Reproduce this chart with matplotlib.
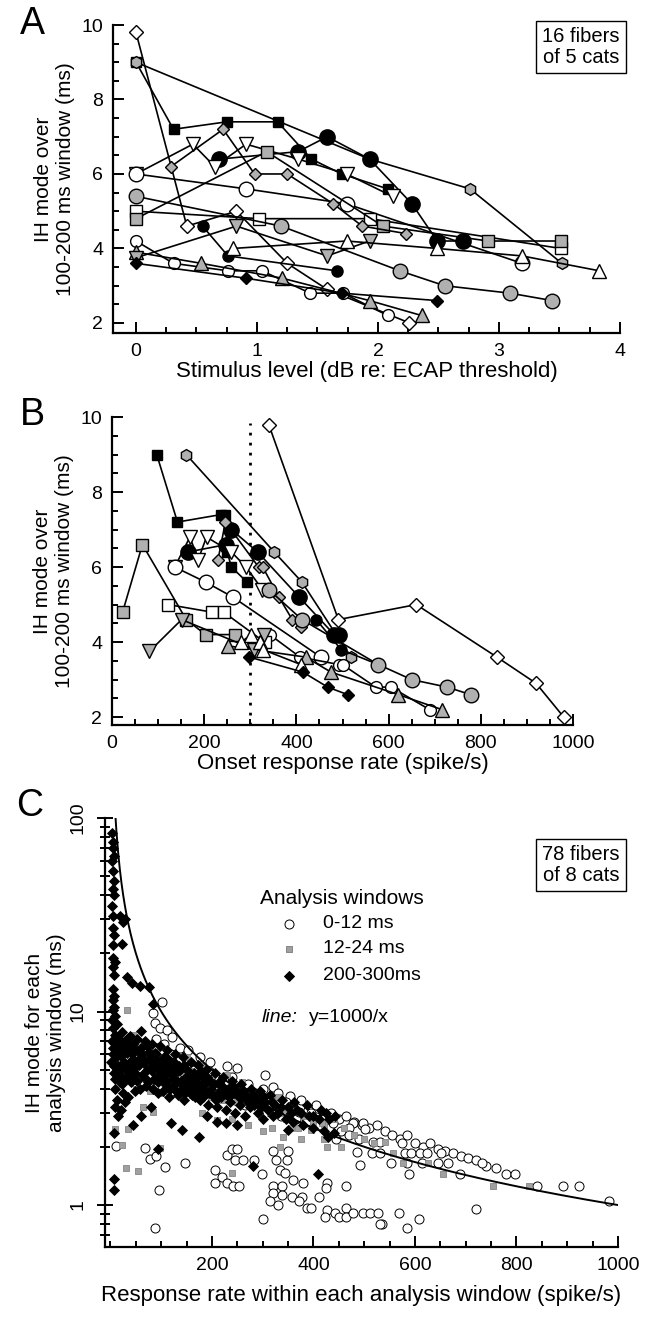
import numpy as np
import matplotlib.pyplot as plt
from matplotlib.ticker import MultipleLocator, LogLocator, NullFormatter

plt.rcParams['font.family'] = ['Liberation Sans', 'DejaVu Sans']

# ---- panels A and B: 16 fibers, one list per fiber ----
level_db = [
    [0, 0.42, 0.83, 1.25, 1.58, 2.26],
    [0, 0.31, 0.75, 1.17, 1.45, 1.7, 2.08],
    [0, 1.93, 2.76, 3.52],
    [0.69, 1.34, 1.58, 1.93, 2.28, 2.49, 2.7],
    [0.55, 0.76, 1.66],
    [0, 0.47, 0.65, 0.91, 1.34, 1.74, 2.12],
    [0, 0.91, 1.74, 3.19],
    [0, 0.31, 0.76, 1.04, 1.44, 1.71, 2.08],
    [0, 1.02, 1.93, 3.51],
    [0, 1.08, 2.04, 2.91, 3.51],
    [0.29, 0.72, 0.98, 1.25, 1.63, 1.87, 2.23],
    [0, 0.54, 1.21, 1.93, 2.36],
    [0, 0.83, 1.58, 1.93],
    [0.8, 1.74, 2.49, 3.19, 3.83],
    [0, 0.91, 1.7, 2.49],
    [0, 1.2, 2.18, 2.55, 3.09, 3.44],
]
ih_mode = [
    [9.8, 4.6, 5.0, 3.6, 2.9, 2.0],
    [9.0, 7.2, 7.4, 7.4, 6.4, 6.0, 5.6],
    [9.0, 6.4, 5.6, 3.6],
    [6.4, 6.6, 7.0, 6.4, 5.2, 4.2, 4.2],
    [4.6, 3.8, 3.4],
    [6.0, 6.8, 6.2, 6.8, 6.4, 6.0, 5.4],
    [6.0, 5.6, 5.2, 3.6],
    [4.2, 3.6, 3.4, 3.4, 2.8, 2.8, 2.2],
    [5.0, 4.8, 4.8, 4.0],
    [4.8, 6.6, 4.6, 4.2, 4.2],
    [6.2, 7.2, 6.0, 6.0, 5.2, 4.6, 4.4],
    [3.9, 3.6, 3.2, 2.6, 2.2],
    [3.75, 4.6, 3.8, 4.2],
    [4.0, 4.2, 4.0, 3.8, 3.4],
    [3.6, 3.2, 2.8, 2.6],
    [5.4, 4.6, 3.4, 3.0, 2.8, 2.6],
]
onset_rate = [
    [340, 491, 660, 835, 920, 980],
    [97, 142, 237, 245, 250, 259, 293],
    [161, 352, 412, 518],
    [164, 248, 259, 316, 406, 482, 493],
    [443, 497, 578],
    [136, 169, 187, 205, 259, 291, 326],
    [136, 203, 262, 453],
    [342, 408, 493, 500, 572, 605, 689],
    [122, 216, 242, 331],
    [23, 66, 161, 203, 266],
    [230, 246, 318, 327, 362, 391, 410],
    [251, 420, 475, 621, 716],
    [81, 151, 309, 330],
    [280, 302, 320, 327, 410],
    [298, 414, 468, 511],
    [340, 412, 578, 650, 727, 778],
]

# ---- panel C: (rate, IH mode) per analysis window ----
win_0_12 = [
    (101, 11.2), (84, 9.8), (88, 8.7), (97.5, 8.2), (111, 8.0), (120.6, 7.4), (137, 6.5), (153, 6.3),
    (176, 5.84), (196, 5.5), (229, 5.2), (249, 5.1), (304, 4.69), (321, 4.09), (354, 3.66),
    (90, 7.2), (105, 6.8), (120, 6.0), (135, 5.6), (150, 5.4), (165, 5.0), (180, 4.7), (195, 4.9),
    (210, 4.5), (225, 4.3), (240, 4.6), (255, 4.0), (270, 4.2), (285, 3.8), (300, 4.0), (315, 3.6),
    (330, 3.8), (345, 3.4), (360, 3.2), (375, 3.5), (390, 3.1), (405, 3.3), (420, 2.9), (435, 3.0),
    (450, 2.8), (465, 2.9), (480, 2.7), (495, 2.6), (510, 2.5), (525, 2.6), (540, 2.4), (555, 2.3),
    (570, 2.2), (585, 2.3), (600, 2.1), (615, 2.0), (630, 2.1), (645, 1.95), (660, 1.9), (675, 1.85),
    (690, 1.8), (705, 1.75), (720, 1.7), (740, 1.6), (760, 1.55), (498, 2.64), (502, 2.46), (518, 2.12),
    (531, 2.12), (515, 1.86), (532, 1.86), (574, 2.08), (580, 1.86), (593, 1.86), (552, 1.65),
    (584, 1.65), (613, 1.65), (610, 1.86), (623, 1.86), (646, 1.65), (666, 1.65), (652, 1.86),
    (589, 1.45), (688, 1.45), (732, 1.65), (780, 1.45), (797, 1.45), (840, 1.25), (892, 1.25),
    (923, 1.25), (982, 1.05), (721, 0.95), (569, 0.91), (584, 0.76), (608, 0.85), (498, 0.91),
    (511, 0.91), (528, 0.91), (535, 0.8),
    (11, 2.02), (68, 1.96), (78, 1.72), (89, 1.79), (107, 1.57), (147, 1.65), (96, 1.2), (87, 0.76),
    (206, 1.52), (206, 1.30), (219, 1.4), (229, 1.3), (242, 1.25), (254, 1.25), (229, 1.81),
    (239, 1.94), (250, 1.94), (246, 1.71), (262, 1.71), (283, 1.71), (298, 1.45), (300, 0.85),
    (321, 1.91), (327, 1.71), (334, 1.52), (344, 1.46), (347, 1.71), (350, 1.91), (321, 1.25),
    (337, 1.25), (321, 1.15), (337, 1.13), (314, 1.05), (331, 1.0), (357, 1.1), (377, 1.1),
    (360, 1.35), (380, 1.3), (372, 1.05), (387, 0.96), (396, 0.96), (411, 1.1), (426, 1.3),
    (425, 1.23), (465, 1.25), (426, 0.94), (422, 0.87), (442, 0.91), (451, 0.87), (465, 0.96),
    (465, 0.87), (478, 0.91), (491, 1.61), (478, 2.66), (485, 1.88), (531, 0.8),
    (160, 4.2), (180, 3.8), (200, 3.4), (220, 3.9), (245, 3.5), (265, 3.3), (280, 3.6), (310, 3.2),
    (335, 2.9), (365, 2.8), (385, 2.7), (410, 2.6), (430, 2.5), (455, 2.4), (470, 2.5), (445, 2.2),
    (372, 3.03), (395, 3.0), (405, 2.85), (420, 2.8), (439, 2.64), (470, 2.3), (490, 2.2),
]
win_12_24 = [
    (33, 10.2), (60, 6.8), (90, 6.2), (40, 5.5), (70, 5.0), (110, 5.5), (150, 5.8), (180, 5.2),
    (200, 4.5), (230, 4.7), (260, 4.3), (140, 4.8), (120, 4.3), (100, 3.8), (80, 4.4), (50, 4.0),
    (30, 3.6), (15, 4.2), (12, 6.0), (25, 7.2), (45, 7.6), (160, 3.7), (190, 3.9), (220, 3.5),
    (250, 3.4), (280, 3.8), (300, 3.5), (320, 3.2), (340, 3.0), (360, 3.3), (380, 2.9), (400, 2.7),
    (420, 2.6), (440, 2.8), (460, 2.5), (480, 2.3), (500, 2.2), (520, 2.1), (541, 2.12), (557, 1.86),
    (577, 1.65), (626, 1.65), (656, 1.45), (754, 1.25), (825, 1.25), (330, 3.6), (355, 2.5),
    (375, 2.2), (420, 2.2), (455, 2.0), (22, 2.04), (30.5, 1.55), (55, 1.5), (9, 2.46), (97.5, 1.96),
    (239, 1.46), (334, 2.0), (318, 2.49), (209, 2.75), (84, 3.03), (65, 3.2), (35, 2.46), (370, 2.49),
    (396, 2.44), (427, 2.0), (416, 2.64), (339, 2.25), (180, 3.0), (240, 2.8), (270, 2.6), (300, 2.4),
    (8, 5.0), (18, 5.7), (28, 4.8), (38, 6.2), (48, 5.0), (58, 4.6), (68, 5.8), (78, 3.9), (88, 4.8),
    (98, 5.2), (108, 3.9), (118, 4.7), (128, 5.1), (138, 4.1), (148, 4.4), (158, 4.9), (168, 3.8),
    (178, 4.2), (198, 3.6), (215, 4.0), (235, 3.8), (255, 3.7), (275, 3.3), (295, 3.1), (315, 3.0),
    (345, 2.8),
]
win_200_300 = [
    (3, 84), (5, 75), (4, 70), (6, 64), (3, 60), (5, 53), (6, 47.5), (4, 43), (6, 40), (3, 35),
    (5, 31), (19, 31), (25, 29), (28, 30), (4, 27), (6, 25), (22, 22.4), (5, 22), (4, 19), (8, 18),
    (5, 17), (32, 15), (6, 15.5), (42, 14), (58, 13.5), (76, 13.4), (5, 13), (7, 12), (5, 11.5),
    (84, 11), (6, 10.6), (4, 10.2), (9, 9.5), (3, 9.0), (12, 8.6), (61, 7.9),
    (4, 8.2), (8, 7.6), (15, 7.3), (22, 7.8), (30, 7.0), (38, 7.5), (45, 6.8), (52, 7.2), (60, 6.5),
    (68, 7.0), (75, 6.2), (82, 6.8), (90, 6.0), (98, 6.6), (105, 5.8), (112, 6.3), (120, 5.5),
    (128, 6.0), (135, 5.2), (142, 5.8), (150, 5.0), (158, 5.5), (165, 4.8), (172, 5.3), (180, 4.6),
    (188, 5.0), (196, 4.4), (205, 4.8), (214, 4.2), (222, 4.6), (232, 4.0), (240, 4.4), (250, 3.9),
    (258, 4.2), (268, 3.7), (276, 4.0), (285, 3.6), (295, 3.9), (305, 3.4), (315, 3.7), (325, 3.3),
    (338, 3.5), (350, 3.2), (362, 3.4), (375, 3.0), (388, 3.3), (400, 2.9), (415, 3.1), (430, 2.8),
    (442, 2.9),
    (5, 6.5), (10, 5.8), (14, 5.2), (6, 4.8), (18, 4.4), (9, 4.0), (24, 3.8), (12, 3.5), (28, 3.4),
    (35, 3.6), (20, 6.2), (26, 5.5), (33, 4.9), (40, 4.3), (48, 3.9), (55, 5.6), (62, 4.7), (70, 4.1),
    (78, 5.1), (85, 4.5), (93, 3.8), (100, 4.9), (108, 4.2), (115, 3.6), (122, 4.7), (130, 3.9),
    (138, 4.4), (145, 3.5), (152, 4.1), (160, 3.7), (168, 4.3), (176, 3.5), (185, 3.9), (192, 3.3),
    (200, 3.7), (210, 3.2), (218, 3.6), (228, 3.1), (236, 3.4), (246, 3.0), (255, 3.3), (265, 2.9),
    (275, 3.2), (290, 3.0), (300, 2.8), (320, 2.9), (345, 2.8), (360, 2.7),
    (3, 7.0), (7, 6.9), (11, 6.4), (16, 6.8), (21, 5.9), (27, 6.6), (32, 6.1), (37, 5.4), (43, 6.0),
    (50, 5.2), (57, 6.2), (64, 5.7), (71, 5.0), (79, 5.9), (88, 5.3), (95, 4.7), (103, 5.4),
    (110, 4.8), (118, 5.1), (126, 4.5), (133, 4.9), (140, 4.2), (148, 4.6), (156, 4.3), (163, 4.0),
    (171, 4.6), (179, 4.1), (187, 4.5), (194, 3.8), (203, 4.2), (212, 3.8), (220, 4.1), (230, 3.7),
    (244, 3.8), (260, 3.6), (272, 3.5), (283, 3.3), (297, 3.2), (310, 3.1), (330, 3.0),
    (2, 5.5), (4, 6.0), (6, 5.2), (8, 4.5), (10, 7.2), (13, 6.6), (17, 5.0), (19, 4.7), (23, 4.2),
    (25, 6.9), (29, 5.2), (31, 4.5), (34, 7.3), (36, 6.4), (39, 5.0), (41, 4.6), (44, 5.7), (47, 6.5),
    (49, 4.8), (53, 4.4), (56, 5.3), (59, 4.0), (63, 6.0), (66, 5.4), (69, 4.5), (72, 6.6), (74, 4.3),
    (77, 5.6), (81, 4.9), (84, 4.0), (87, 6.1), (91, 5.6), (94, 4.3), (97, 5.1), (101, 4.5),
    (104, 3.9), (107, 5.2), (111, 4.4), (114, 5.7), (117, 4.0), (121, 5.0), (124, 4.1), (127, 5.4),
    (131, 4.4), (134, 3.7), (137, 5.0), (141, 4.0), (144, 5.3), (147, 3.8), (151, 4.5), (154, 3.9),
    (157, 4.8), (162, 4.4), (166, 3.6), (170, 4.2), (174, 3.9), (178, 4.9), (183, 3.6), (186, 4.2),
    (191, 4.6), (199, 4.0), (207, 3.5), (216, 4.4), (225, 3.9), (234, 3.6), (242, 4.1), (253, 3.6),
    (262, 3.9), (270, 3.4), (280, 3.7), (292, 3.4), (302, 3.6), (318, 3.4), (335, 3.2), (355, 3.0),
    (368, 3.1), (392, 2.9), (410, 2.8), (425, 3.0),
    (7, 2.36), (7, 1.36), (7, 1.2), (45, 2.58), (94, 1.94), (140, 2.44), (175, 2.25), (281, 1.59),
    (409, 1.45), (120, 2.66), (228, 2.66), (350, 2.44), (429, 2.25), (8, 3.2), (15, 2.9), (20, 3.1),
    (60, 2.9), (80, 3.2), (190, 2.9), (210, 2.7), (250, 2.6), (380, 2.6), (400, 2.5), (420, 2.4),
    (440, 2.35),
]

GREY = '#b0b0b0'
# marker, face colour, size for each fiber (same order as the lists above)
fiber_style = [
    ('D', 'white', 7), ('s', 'black', 6.5), ('h', GREY, 8.5), ('o', 'black', 11),
    ('o', 'black', 8), ('v', 'white', 9.5), ('o', 'white', 10.5), ('o', 'white', 8.5),
    ('s', 'white', 8.5), ('s', GREY, 8.5), ('D', GREY, 6.5), ('^', GREY, 9.5),
    ('v', GREY, 9.5), ('^', 'white', 9.5), ('D', 'black', 6.5), ('o', GREY, 10.5),
]

W, H = 648, 1317
fig = plt.figure(figsize=(W / 100, H / 100), dpi=100)


def px_axes(left, top, right, bottom):
    return fig.add_axes([left / W, 1 - bottom / H, (right - left) / W, (bottom - top) / H])


def style_axes(ax):
    for s in ['top', 'right']:
        ax.spines[s].set_visible(False)
    for s in ['left', 'bottom']:
        ax.spines[s].set_linewidth(1.6)
    ax.tick_params(which='both', direction='in', width=1.4, labelsize=14, top=False, right=False)
    ax.tick_params(which='major', length=8, pad=7)
    ax.tick_params(which='minor', length=4.5)


def draw_fibers(ax, xs_list):
    for xs, ys, (mk, fc, ms) in zip(xs_list, ih_mode, fiber_style):
        ax.plot(xs, ys, color='black', lw=1.2, marker=mk, mfc=fc, mec='black',
                mew=1.0, ms=ms, clip_on=False)


# panel A
axA = px_axes(113, 25, 620, 333)
draw_fibers(axA, level_db)
axA.set_xlim(-0.19, 4.0)
axA.set_ylim(1.73, 10)
axA.xaxis.set_major_locator(MultipleLocator(1))
axA.xaxis.set_minor_locator(MultipleLocator(0.25))
axA.yaxis.set_major_locator(MultipleLocator(2))
axA.yaxis.set_minor_locator(MultipleLocator(0.5))
style_axes(axA)
axA.set_xlabel('Stimulus level (dB re: ECAP threshold)', fontsize=16, labelpad=1)

# panel B
axB = px_axes(112, 417, 573, 725)
axB.axvline(300, ymax=0.98, color='black', lw=2, ls=(0, (1, 2.6)))
draw_fibers(axB, onset_rate)
axB.set_xlim(0, 1000)
axB.set_ylim(1.79, 10)
axB.xaxis.set_major_locator(MultipleLocator(200))
axB.xaxis.set_minor_locator(MultipleLocator(50))
axB.yaxis.set_major_locator(MultipleLocator(2))
axB.yaxis.set_minor_locator(MultipleLocator(0.5))
style_axes(axB)
axB.set_xlabel('Onset response rate (spike/s)', fontsize=16, labelpad=1)

for ax in (axA, axB):
    ax.set_ylabel('IH mode over\n100-200 ms window (ms)', fontsize=15, labelpad=5)

# panel C
axC = px_axes(105, 818, 618, 1247)
c0 = np.array(win_0_12)
c1 = np.array(win_12_24)
c2 = np.array(win_200_300)
axC.plot(c0[:, 0], c0[:, 1], 'o', ms=6.5, mfc='white', mec='black', mew=0.7, ls='none')
axC.plot(c1[:, 0], c1[:, 1], 's', ms=5, mfc='#a0a0a0', mec='#858585', mew=0.6, ls='none')
axC.plot(c2[:, 0], c2[:, 1], 'D', ms=4.7, mfc='black', mec='black', mew=0.6, ls='none')
xc = np.linspace(10, 1000, 600)
axC.plot(xc, 1000 / xc, color='black', lw=1.4)
axC.set_yscale('log')
axC.set_xlim(-10.8, 1000)
axC.set_ylim(0.607, 100)
axC.set_xticks([200, 400, 600, 800, 1000])
axC.xaxis.set_minor_locator(MultipleLocator(50))
axC.set_yticks([1, 10, 100], ['1', '10', '100'])
axC.yaxis.set_minor_locator(LogLocator(base=10, subs=np.arange(2, 10)))
axC.yaxis.set_minor_formatter(NullFormatter())
style_axes(axC)
axC.tick_params(axis='y', which='both', direction='inout')
axC.tick_params(axis='y', which='major', length=12)
axC.tick_params(axis='y', which='minor', length=7)
for lab in axC.get_yticklabels():
    lab.set_rotation(90)
    lab.set_va('center')
axC.set_xlabel('Response rate within each analysis window (spike/s)', fontsize=16, labelpad=8)
axC.set_ylabel('IH mode for each\nanalysis window (ms)', fontsize=15, labelpad=3)

# legend in C, drawn by hand
tr = axC.transAxes
axC.text(0.302, 0.813, 'Analysis windows', transform=tr, fontsize=15, va='center')
leg_rows = [('o', 'white', 'black', 6.5, '0-12 ms'),
            ('s', '#a0a0a0', '#858585', 5, '12-24 ms'),
            ('D', 'black', 'black', 4.7, '200-300ms')]
for (mk, fc, ec, ms, lab), yy in zip(leg_rows, [0.753, 0.695, 0.632]):
    axC.plot([0.359], [yy], mk, ms=ms, mfc=fc, mec=ec, mew=0.7, transform=tr, clip_on=False)
    axC.text(0.425, yy, lab, transform=tr, fontsize=14, va='center')
axC.text(0.306, 0.536, 'line:', transform=tr, fontsize=14, style='italic', va='center')
axC.text(0.398, 0.536, 'y=1000/x', transform=tr, fontsize=14, va='center')

# boxed notes
box = dict(boxstyle='square,pad=0.3', fc='white', ec='black', lw=1.0)
fig.text(581 / W, 1 - 47 / H, '16 fibers\nof 5 cats', fontsize=14.5, ha='center', va='center',
         linespacing=1.15, bbox=box)
fig.text(581 / W, 1 - 865 / H, '78 fibers\nof 8 cats', fontsize=14.5, ha='center', va='center',
         linespacing=1.15, bbox=box)

# panel letters
for lab, x, y in [('A', 32, 24), ('B', 32, 415), ('C', 30, 806)]:
    fig.text(x / W, 1 - y / H, lab, fontsize=27, ha='center', va='center')

fig.savefig('out.png', dpi=100)
